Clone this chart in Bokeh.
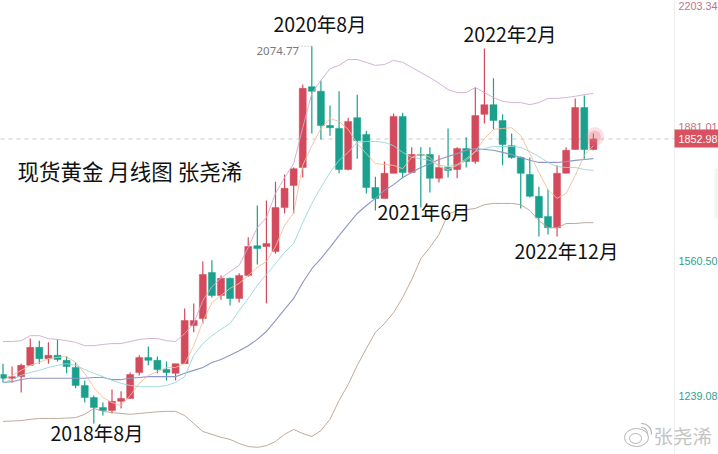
from bokeh.plotting import figure
from bokeh.models import ColumnDataSource, Label
from bokeh.embed import file_html
from bokeh.resources import INLINE

# months: 2017-10 (index 0) ... 2023-03 (index 65)
opens = [1290,1281,1285,1312,1355,1328,1336,1324,1307,1264,
         1235,1211,1204,1226,1233,1295,1331,1324,1302,1293,
         1316,1407,1424,1534,1479,1520,1472,1527,1598,1596,
         1584,1689,1742,1785,1978,1967,1885,1878,1780,1904,
         1864,1737,1711,1771,1907,1773,1816,1816,1759,1785,
         1780,1830,1799,1912,1935,1897,1837,1809,1768,1716,
         1668,1641,1771,1828,1928,1828]
highs = [1316,1309,1316,1376,1371,1367,1374,1333,1319,1276,
         1240,1223,1254,1250,1295,1336,1357,1333,1321,1316,
         1448,1460,1560,1563,1527,1522,1532,1618,1694,1706,
         1751,1768,1785,1983,2074.77,1993,1933,1967,1904,1959,
         1873,1763,1799,1914,1916,1833,1833,1833,1814,1878,
         1833,1857,1976,2069,1998,1912,1866,1811,1809,1739,
         1732,1790,1833,1950,1957,1866]
lows = [1271,1271,1247,1312,1316,1316,1321,1293,1257,1223,
        1173,1192,1197,1209,1233,1288,1312,1293,1276,1276,
        1316,1391,1412,1474,1469,1455,1462,1524,1553,1460,
        1579,1675,1675,1761,1866,1852,1861,1771,1778,1806,
        1723,1682,1711,1771,1759,1771,1689,1725,1749,1761,
        1759,1785,1794,1890,1876,1790,1806,1687,1713,1620,
        1625,1620,1771,1828,1806,1826]
closes = [1281,1285,1312,1355,1328,1336,1326,1309,1264,1235,
          1211,1204,1226,1233,1290,1331,1324,1302,1295,1316,
          1419,1419,1529,1479,1520,1472,1527,1596,1591,1603,
          1689,1735,1782,1974,1967,1885,1880,1780,1895,1849,
          1737,1711,1771,1907,1773,1816,1814,1759,1785,1778,
          1830,1799,1909,1935,1897,1840,1809,1771,1716,1665,
          1641,1771,1826,1928,1828,1853]

boll_upper = [1369,1369,1371,1383,1383,1376,1374,1371,1367,1359,
              1359,1362,1364,1364,1369,1374,1376,1376,1371,1369,
              1388,1412,1467,1500,1520,1536,1551,1594,1641,1665,
              1723,1761,1794,1880,1962,1993,2021,2029,2043,2043,
              2036,2029,2031,2041,2036,2024,2012,2000,1986,1971,
              1964,1964,1976,1964,1952,1943,1940,1940,1935,1940,
              1950,1950,1952,1955,1959,1962]
boll_lower = [1178,1179,1180,1183,1185,1185,1185,1186,1187,1195,
              1209,1202,1199,1197,1195,1197,1199,1201,1202,1202,
              1192,1173,1154,1147,1140,1135,1125,1118,1116,1120,
              1130,1147,1159,1149,1142,1156,1183,1228,1266,1312,
              1352,1391,1412,1438,1474,1517,1567,1594,1625,1673,
              1682,1684,1687,1696,1699,1699,1699,1696,1682,1658,
              1641,1641,1651,1651,1653,1653]
ma_blue = [1271,1273,1278,1281,1281,1281,1281,1281,1281,1281,
           1283,1283,1278,1278,1281,1283,1285,1285,1285,1285,
           1293,1300,1307,1319,1326,1336,1347,1359,1374,1393,
           1419,1446,1472,1510,1543,1567,1594,1622,1649,1675,
           1694,1711,1730,1744,1761,1773,1785,1794,1804,1811,
           1818,1826,1830,1828,1826,1821,1816,1809,1802,1797,
           1797,1797,1799,1802,1804,1806]
ma_cyan = [1271,1278,1288,1295,1300,1307,1312,1316,1312,1302,
           1293,1285,1276,1269,1264,1261,1261,1261,1264,1271,
           1285,1336,1364,1383,1398,1412,1443,1472,1503,1529,
           1555,1582,1603,1653,1699,1737,1773,1802,1821,1845,
           1847,1847,1845,1837,1821,1809,1806,1802,1790,1787,
           1792,1806,1823,1830,1835,1835,1835,1833,1823,1811,
           1797,1787,1785,1785,1780,1778]
ma_orange = [1276,1288,1300,1312,1319,1328,1331,1333,1319,1293,
             1259,1235,1223,1216,1240,1269,1288,1297,1307,1307,
             1316,1359,1417,1462,1479,1496,1508,1527,1546,1560,
             1596,1646,1677,1790,1837,1878,1902,1895,1876,1842,
             1818,1794,1792,1790,1782,1809,1818,1809,1787,1780,
             1790,1802,1823,1854,1876,1878,1880,1861,1818,1773,
             1732,1711,1723,1766,1814,1837]

tick_prices = [2172, 1881, 1560.5, 1239.08]
tick_labels = ["2203.34", "1881.01", "1560.50", "1239.08"]
tick_colors = ["#c4717f", "#c4717f", "#2f9e8f", "#2f9e8f"]
last_price = 1852.98
peak_label = "2074.77"
title_text = "现货黄金 月线图 张尧浠"
annotations = [("2020年8月", 273, 23), ("2022年2月", 463, 33), ("2021年6月", 377, 211),
               ("2022年12月", 514, 250), ("2018年8月", 50, 432)]

W, H = 718, 454
STEP = 9.083
X0 = 2.5
TOP = 2184.0
PER_PX = 2.39


def dx(px):
    return (px - X0) / STEP


def dy(py):
    return TOP - PER_PX * py


RED = "#d44a5d"
TEAL = "#1aa08d"

p = figure(width=W, height=H, output_backend="svg", toolbar_location=None,
           x_range=(dx(0), dx(W)), y_range=(dy(H), dy(0)), min_border=0,
           x_axis_type=None, y_axis_type=None, outline_line_color=None,
           background_fill_color="white", border_fill_color="white")
p.grid.visible = False

idx = list(range(len(closes)))
src = ColumnDataSource(dict(
    x=idx, open=opens, high=highs, low=lows, close=closes,
    top=[max(o, c) for o, c in zip(opens, closes)],
    bot=[min(o, c) for o, c in zip(opens, closes)],
    color=[RED if c >= o else TEAL for o, c in zip(opens, closes)],
))

# axis separator and side block
p.segment(x0=[dx(674)], x1=[dx(674)], y0=[dy(0)], y1=[dy(H)], line_color="#eeeeee", line_width=1)
p.quad(left=[dx(714)], right=[dx(W)], top=[dy(168)], bottom=[dy(218)], fill_color="#f4f4f4", line_color=None)

# last price dashed line
r = p.segment(x0=[dx(0)], x1=[dx(674)], y0=[last_price], y1=[last_price],
              line_color="#cfc6c7", line_width=1)
r.glyph.line_dash = [4, 4]

p.segment(x0="x", x1="x", y0="low", y1="high", source=src, line_color="color", line_width=1.2)
p.vbar(x="x", top="top", bottom="bot", width=0.77, source=src, fill_color="color", line_color="color", line_width=0.5)

p.line(idx, boll_lower, line_color="#b8a08f", line_width=0.9)
p.line(idx, ma_blue, line_color="#8f95c6", line_width=1.1)
p.line(idx, ma_cyan, line_color="#9ad6d6", line_width=0.9)
p.line(idx, boll_upper, line_color="#d0aad2", line_width=0.9)
p.line(idx, ma_orange, line_color="#efc19c", line_width=0.9)

# pulse on the last candle
p.scatter([idx[-1] + 0.15], [closes[-1] + 6], size=19, marker="circle", fill_color="#e8707f", fill_alpha=0.2, line_color=None)
p.scatter([idx[-1] + 0.15], [closes[-1] + 6], size=12, marker="circle", fill_color="#e8707f", fill_alpha=0.3, line_color=None)

# peak annotation
r = p.segment(x0=[dx(298)], x1=[dx(311)], y0=[max(highs)], y1=[max(highs)], line_color="#aaaaaa", line_width=1)
r.glyph.line_dash = [1, 2]
p.add_layout(Label(x=256, y=H - 50, x_units="screen", y_units="screen", text=peak_label, text_font="Noto Sans",
                   text_font_size="11.5px", text_color="#7a7a7a", text_baseline="middle", text_align="left"))

# right-hand price labels
p.text(x=[dx(678)] * len(tick_prices), y=tick_prices, text=tick_labels, text_color=tick_colors,
       text_font={"value": "Liberation Sans"}, text_font_size="10.8px", text_baseline="middle", text_align="left")
p.quad(left=[dx(674)], right=[dx(W)], top=[dy(129)], bottom=[dy(147)], fill_color="#d9515f", line_color=None)
p.text(x=[dx(678)], y=[last_price], text=["%.2f" % last_price], text_color="white",
       text_font={"value": "Liberation Sans"}, text_font_size="10.8px", text_baseline="middle", text_align="left")

# black hand-written annotations
for text, px, py in annotations:
    p.add_layout(Label(x=px, y=H - py, x_units="screen", y_units="screen", text=text,
                       text_font="Noto Sans CJK SC", text_font_size="19.5px", text_color="#111111",
                       text_baseline="middle", text_align="left"))
p.add_layout(Label(x=17, y=H - 170, x_units="screen", y_units="screen", text=title_text,
                   text_font="Noto Sans CJK SC", text_font_size="21.5px", text_color="#111111",
                   text_baseline="middle", text_align="left"))

# watermark
p.ellipse(x=[dx(636)], y=[dy(437)], width=[24 / STEP], height=[18 * PER_PX], fill_color=None,
          line_color="#b5b5b5", line_width=1)
p.ellipse(x=[dx(635)], y=[dy(438)], width=[12 / STEP], height=[10 * PER_PX], fill_color=None,
          line_color="#b5b5b5", line_width=1)
p.arc(x=[dx(641), dx(641)], y=[dy(433), dy(433)], radius=[6, 10], radius_units="screen",
      start_angle=-0.1, end_angle=1.6, line_color="#b5b5b5", line_width=1.2)
p.add_layout(Label(x=653, y=H - 435, x_units="screen", y_units="screen", text="张尧浠",
                   text_font="Noto Sans CJK SC", text_font_size="19.5px", text_color="#c4c4c4",
                   text_baseline="middle", text_align="left"))

open("out.html", "w").write(file_html(p, INLINE))
